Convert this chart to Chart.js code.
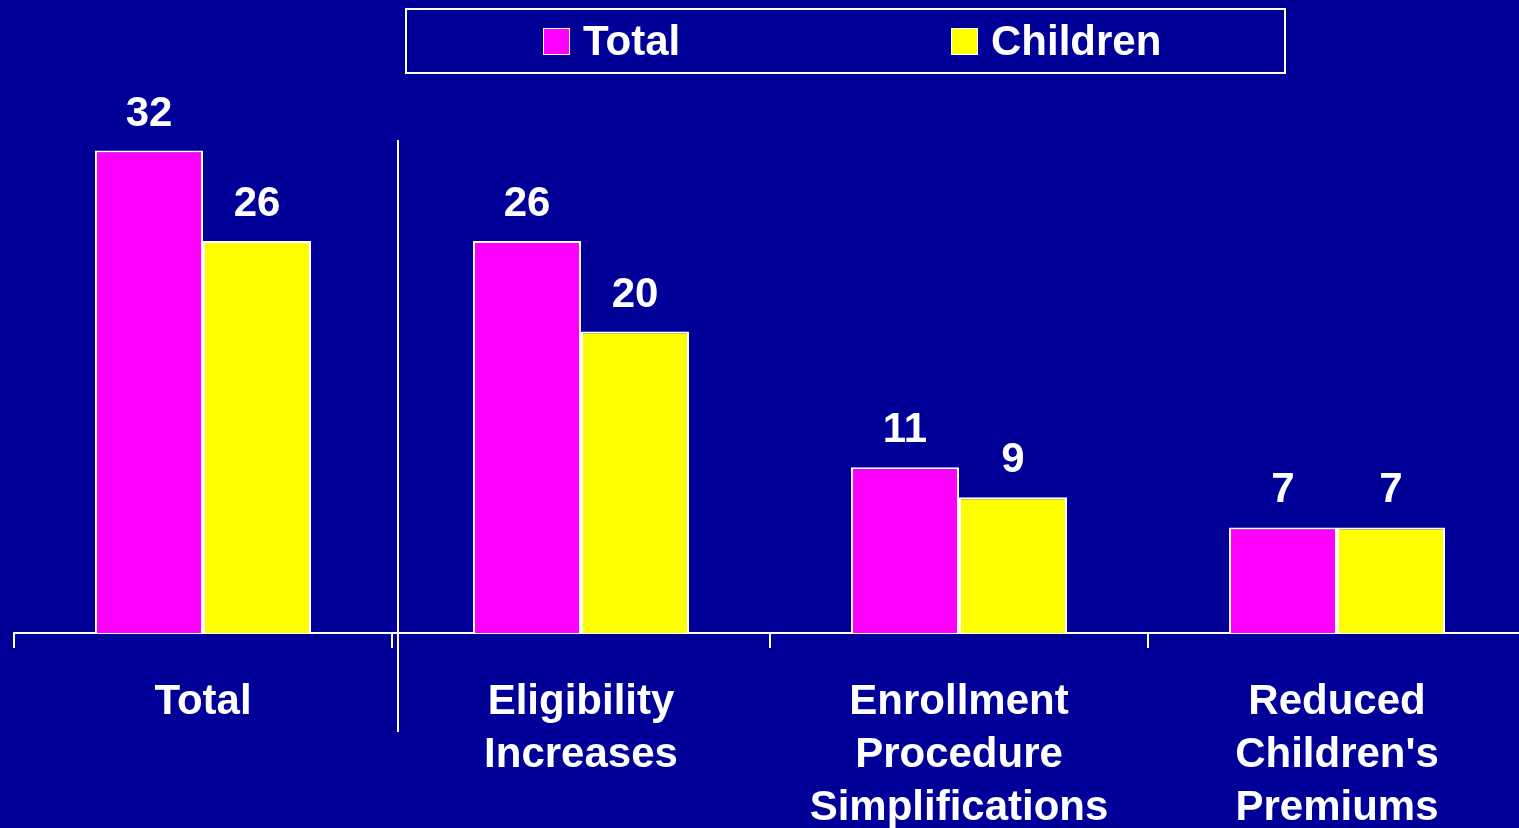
<!DOCTYPE html>
<html><head><meta charset="utf-8">
<script src="https://cdn.jsdelivr.net/npm/chart.js@4"></script>
<style>
html,body{margin:0;padding:0;background:#000099;overflow:hidden;width:1519px;height:828px;}
#wrap{position:absolute;left:0;top:0;width:1530px;height:863px;}
#legend{position:absolute;left:405px;top:8px;width:877px;height:62px;border:2px solid #fff;font:bold 42px "Liberation Sans",Arial,sans-serif;color:#fff;}
.item{position:absolute;top:0;height:62px;display:flex;align-items:center;white-space:nowrap;}
.sw{width:25px;height:25px;border:1px solid #fff;margin-right:13px;}
</style></head>
<body>
<div id="wrap"><canvas id="c"></canvas></div>
<div id="legend"></div>
<script>
const categories = [["Total"], ["Eligibility", "Increases"], ["Enrollment", "Procedure", "Simplifications"], ["Reduced", "Children's", "Premiums"]];
const seriesNames = ["Total", "Children"];
const totalValues = [32, 26, 11, 7];
const childrenValues = [26, 20, 9, 7];
const seriesColors = ["#FF00FF", "#FFFF00"];
const legendOffsets = [136, 544];

const FONT = '"Liberation Sans", Arial, sans-serif';

// HTML legend
const lg = document.getElementById('legend');
seriesNames.forEach((n, i) => {
  const it = document.createElement('div');
  it.className = 'item';
  it.style.left = legendOffsets[i] + 'px';
  const sw = document.createElement('div');
  sw.className = 'sw';
  sw.style.background = seriesColors[i];
  const tx = document.createElement('span');
  tx.textContent = n;
  it.appendChild(sw); it.appendChild(tx);
  lg.appendChild(it);
});

const valueLabels = {
  id: 'valueLabels',
  afterDatasetsDraw(chart) {
    const ctx = chart.ctx;
    ctx.save();
    ctx.fillStyle = '#fff';
    ctx.font = 'bold 42px ' + FONT;
    ctx.textAlign = 'center';
    ctx.textBaseline = 'alphabetic';
    chart.data.datasets.forEach((ds, di) => {
      chart.getDatasetMeta(di).data.forEach((bar, i) => {
        ctx.fillText(String(ds.data[i]), bar.x, bar.y - 25);
      });
    });
    ctx.restore();
  }
};

const separator = {
  id: 'separator',
  afterDraw(chart) {
    const xs = chart.scales.x;
    const x = (xs.getPixelForValue(0) + xs.getPixelForValue(1)) / 2 + 6;
    const b = chart.chartArea.bottom;
    const ctx = chart.ctx;
    ctx.save();
    ctx.strokeStyle = '#fff';
    ctx.lineWidth = 2;
    ctx.beginPath();
    ctx.moveTo(x, b - 493);
    ctx.lineTo(x, b + 99);
    ctx.stroke();
    ctx.restore();
  }
};

new Chart(document.getElementById('c'), {
  type: 'bar',
  data: {
    labels: categories,
    datasets: [
      { label: seriesNames[0], data: totalValues, backgroundColor: seriesColors[0], borderColor: '#fff', borderWidth: 2 },
      { label: seriesNames[1], data: childrenValues, backgroundColor: seriesColors[1], borderColor: '#fff', borderWidth: 2 }
    ]
  },
  options: {
    responsive: true,
    maintainAspectRatio: false,
    animation: false,
    layout: { padding: { left: 14, right: 4, top: 30, bottom: 0 } },
    datasets: { bar: { categoryPercentage: 0.5714, barPercentage: 1.0 } },
    plugins: { legend: { display: false }, tooltip: { enabled: false } },
    scales: {
      x: {
        grid: { display: true, drawOnChartArea: false, drawTicks: true, tickLength: 15, color: '#fff', lineWidth: 2, offset: true },
        border: { display: true, color: '#fff', width: 2 },
        ticks: { color: '#fff', font: { family: FONT, size: 42, weight: 'bold', lineHeight: 53 / 42 }, padding: 28, maxRotation: 0, autoSkip: false }
      },
      y: {
        display: false,
        min: 0,
        max: 40
      }
    }
  },
  plugins: [valueLabels, separator]
});
</script>
</body></html>
